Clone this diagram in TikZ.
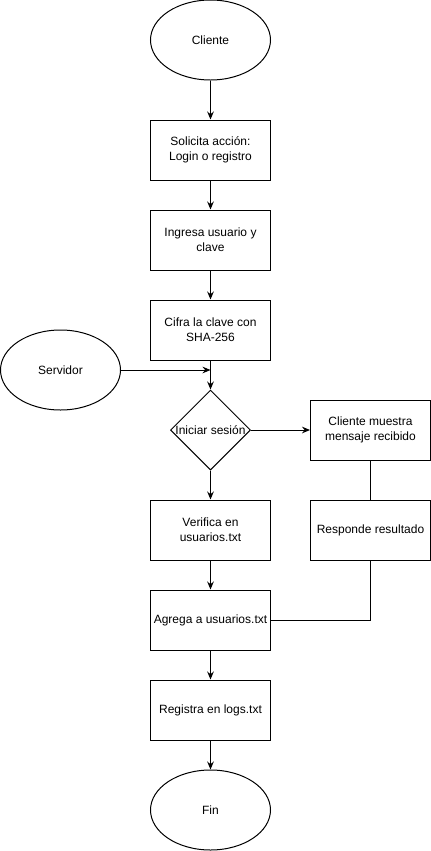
\documentclass[tikz,border=0pt]{standalone}
\usepackage{fontspec}
\setmainfont{Liberation Sans}
\usetikzlibrary{shapes.geometric,arrows.meta}
\begin{document}
\begin{tikzpicture}[x=0.75pt,y=-0.75pt,
  every node/.style={font=\fontsize{9}{11}\selectfont, align=center, line width=0.75pt},
  proc/.style={draw, rectangle, minimum width=90pt, minimum height=45pt, inner sep=1pt},
  term/.style={draw, ellipse, minimum width=90pt, minimum height=60pt, inner sep=0pt},
  dec/.style={draw, diamond, minimum width=60pt, minimum height=60pt, inner sep=0pt},
  arr/.style={line width=0.75pt, -{Stealth[length=6pt,width=5pt,inset=2pt]}},
  ln/.style={line width=0.75pt}]
\useasboundingbox (0,0) rectangle (431,851);
\node[term] (cli) at (210.5,40) {Cliente};
\node[proc] (sol) at (210.5,150) {Solicita acción:\\Login o registro};
\node[proc] (ing) at (210.5,240) {Ingresa usuario y\\clave};
\node[proc] (cif) at (210.5,330) {Cifra la clave con\\SHA-256};
\node[term] (srv) at (60.5,370) {Servidor};
\node[dec] (ini) at (210.5,430) {Iniciar sesión};
\node[proc] (mue) at (370.5,430) {Cliente muestra\\mensaje recibido};
\node[proc] (res) at (370.5,530) {Responde resultado};
\node[proc] (ver) at (210.5,530) {Verifica en\\usuarios.txt};
\node[proc] (agr) at (210.5,620) {Agrega a usuarios.txt};
\node[proc] (reg) at (210.5,710) {Registra en logs.txt};
\node[term] (fin) at (210.5,810) {Fin};
\coordinate (j) at (210.5,370);
\draw[arr] (cli) -- (sol);
\draw[arr] (sol) -- (ing);
\draw[arr] (ing) -- (cif);
\draw[arr] (cif) -- (ini);
\draw[arr] (srv) -- (j);
\draw[arr] (ini) -- (mue);
\draw[ln] (mue) -- (res);
\draw[ln] (res.south) |- (agr.east);
\draw[arr] (ini) -- (ver);
\draw[arr] (ver) -- (agr);
\draw[arr] (agr) -- (reg);
\draw[arr] (reg) -- (fin);
\end{tikzpicture}
\end{document}
